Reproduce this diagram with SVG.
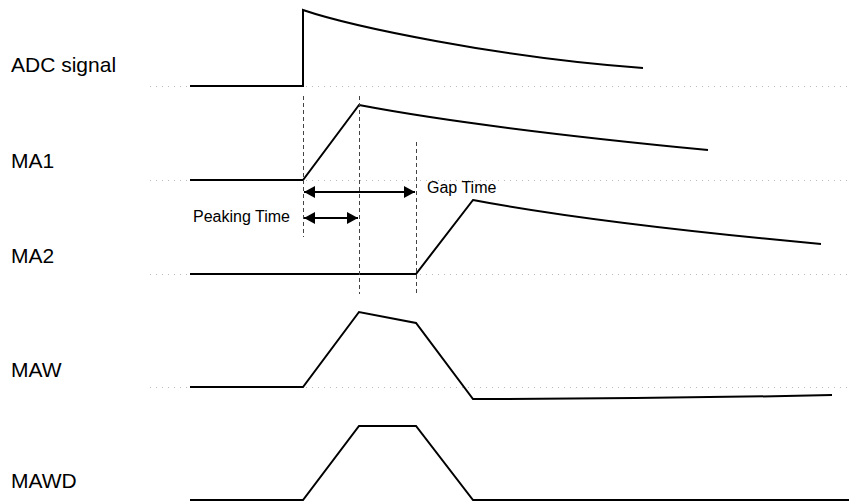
<svg xmlns="http://www.w3.org/2000/svg" width="849" height="501" viewBox="0 0 849 501">
<style>
.lbl{font-family:"Liberation Sans",Arial,sans-serif;font-size:21px;fill:#000}
.sm{font-family:"Liberation Sans",Arial,sans-serif;font-size:16px;fill:#000}
.sig{fill:none;stroke:#000;stroke-width:2;stroke-linejoin:miter}
.dot{stroke:#bbb;stroke-width:1;stroke-dasharray:1,5}
.dash{stroke:#444;stroke-width:1;stroke-dasharray:4,3}
.arr{stroke:#000;stroke-width:2;marker-start:url(#ah);marker-end:url(#ah)}
</style>
<defs>
<marker id="ah" viewBox="0 0 11 12" refX="11" refY="6" markerWidth="11" markerHeight="12" markerUnits="userSpaceOnUse" orient="auto-start-reverse">
<path d="M0,0 L11,6 L0,12 z" fill="#000"/>
</marker>
</defs>
<rect width="849" height="501" fill="#fff"/>
<g id="baselines">
<line class="dot" x1="150" y1="86.5" x2="849" y2="86.5"/>
<line class="dot" x1="150" y1="180.5" x2="849" y2="180.5"/>
<line class="dot" x1="150" y1="274.5" x2="849" y2="274.5"/>
<line class="dot" x1="150" y1="387.5" x2="849" y2="387.5"/>
</g>
<g id="adc">
<text class="lbl" x="11" y="72">ADC signal</text>
<path class="sig" d="M190,86 L303,86 L303,10 C350,26 500,58 643,68"/>
</g>
<g id="ma1">
<text class="lbl" x="11" y="168">MA1</text>
<path class="sig" d="M190,180 L303,180 L359,105 Q480,128 708,150"/>
</g>
<g id="ma2">
<text class="lbl" x="11" y="263">MA2</text>
<path class="sig" d="M190,274 L416,274 L473,200 Q594,223 821,244"/>
</g>
<g id="maw">
<text class="lbl" x="11" y="377">MAW</text>
<path class="sig" d="M190,387 L303,387 L359,312 L416,323 L473,399 Q650,399 832,395"/>
</g>
<g id="mawd">
<text class="lbl" x="11" y="488">MAWD</text>
<path class="sig" d="M190,500 L303,500 L359,426 L416,426 L473,500 L849,500"/>
</g>
<g id="connectors">
<line class="dash" x1="303.5" y1="96" x2="303.5" y2="237"/>
<line class="dash" x1="359.5" y1="96" x2="359.5" y2="294"/>
<line class="dash" x1="416.5" y1="142" x2="416.5" y2="294"/>
<line class="arr" x1="304" y1="192" x2="415" y2="192"/>
<line class="arr" x1="304" y1="218" x2="358" y2="218"/>
</g>
<g id="annotations">
<text class="sm" x="427" y="193">Gap Time</text>
<text class="sm" x="193" y="222">Peaking Time</text>
</g>
</svg>
